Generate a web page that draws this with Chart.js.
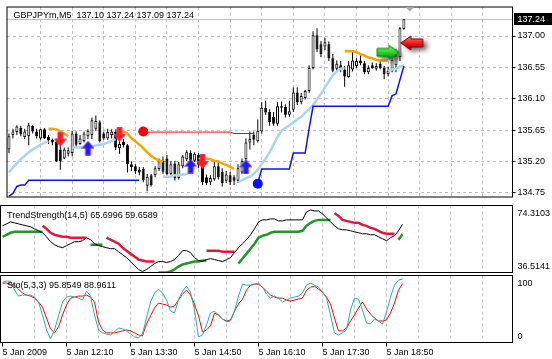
<!DOCTYPE html>
<html>
<head>
<meta charset="utf-8">
<script src="https://cdn.jsdelivr.net/npm/chart.js@4.4.1/dist/chart.umd.min.js"></script>
<style>
html,body{margin:0;padding:0;background:#fff;}
body{width:552px;height:359px;position:relative;overflow:hidden;}
canvas{position:absolute;left:0;display:block;}
</style>
</head>
<body>
<canvas id="main" width="552" height="204" style="top:0px"></canvas>
<canvas id="ts" width="552" height="68" style="top:205px"></canvas>
<canvas id="sto" width="552" height="84" style="top:275px"></canvas>
<script>
// ---------- DATA ----------
const symbol = 'GBPJPYm', timeframe = 'M5';
const opens = [135.37,135.58,135.62,135.68,135.55,135.56,135.71,135.63,135.53,135.66,
 135.55,135.51,135.48,135.37,135.24,135.31,135.32,135.60,135.45,135.49,
 135.56,135.58,135.67,135.76,135.60,135.53,135.58,135.62,135.39,135.48,
 135.43,135.16,135.13,135.08,135.09,134.85,135.00,135.00,135.09,135.21,
 135.24,135.02,135.17,134.96,135.13,135.23,135.32,135.21,135.29,135.13,
 134.97,134.90,134.94,135.13,135.05,134.92,135.00,134.97,134.92,135.04,
 135.23,135.47,135.58,135.49,135.63,135.97,135.91,135.84,135.74,135.99,
 135.98,135.87,135.94,136.19,136.05,136.11,136.21,136.54,137.01,136.88,
 136.85,136.88,136.68,136.53,136.58,136.52,136.41,136.52,136.57,136.65,
 136.61,136.48,136.58,136.53,136.60,136.54,136.45,136.50,136.58,136.70,
 137.10];
const highs = [135.60,135.67,135.72,135.71,135.67,135.75,135.72,135.67,135.67,135.68,
 135.58,135.53,135.53,135.45,135.40,135.40,135.64,135.63,135.58,135.63,
 135.66,135.83,135.86,135.79,135.63,135.67,135.66,135.66,135.50,135.52,
 135.45,135.20,135.16,135.12,135.12,135.02,135.02,135.13,135.24,135.27,
 135.29,135.20,135.21,135.19,135.29,135.36,135.36,135.33,135.32,135.16,
 135.01,135.00,135.20,135.19,135.10,135.06,135.05,135.00,135.16,135.24,
 135.53,135.63,135.63,135.80,136.05,136.07,135.95,135.91,136.05,136.06,
 136.02,136.07,136.26,136.26,136.18,136.23,136.58,137.07,137.11,136.93,
 136.97,136.92,136.74,136.65,136.64,136.57,136.64,136.78,136.68,136.72,
 136.64,136.58,136.62,136.61,136.65,136.57,136.56,136.74,136.81,137.13,
 137.24];
const lows = [135.32,135.53,135.58,135.56,135.52,135.43,135.60,135.53,135.51,135.52,
 135.45,135.43,135.19,135.08,135.23,135.27,135.27,135.41,135.44,135.47,
 135.52,135.52,135.64,135.47,135.51,135.51,135.53,135.36,135.31,135.40,
 135.04,135.06,135.02,135.00,134.90,134.77,134.84,134.97,135.06,135.02,
 135.00,135.00,134.92,134.94,135.10,135.20,135.16,135.19,135.10,134.86,
 134.86,134.86,134.92,134.94,134.84,134.89,134.86,134.86,134.89,135.02,
 135.19,135.37,135.43,135.47,135.60,135.87,135.71,135.71,135.71,135.90,
 135.83,135.84,135.91,136.01,136.02,136.09,136.18,136.52,136.77,136.70,
 136.80,136.64,136.48,136.50,136.48,136.27,136.40,136.49,136.54,136.58,
 136.45,136.45,136.53,136.50,136.52,136.38,136.42,136.48,136.48,136.64,
 137.09];
const closes = [135.56,135.63,135.70,135.59,135.63,135.72,135.63,135.56,135.66,135.53,
 135.50,135.47,135.20,135.20,135.37,135.36,135.60,135.44,135.53,135.60,
 135.64,135.79,135.78,135.49,135.53,135.62,135.63,135.40,135.45,135.43,
 135.16,135.12,135.06,135.04,134.93,134.98,134.86,135.10,135.20,135.05,
 135.02,135.16,134.96,135.16,135.27,135.33,135.21,135.31,135.15,134.90,
 134.89,134.96,135.13,134.97,134.89,135.01,134.90,134.92,135.10,135.20,
 135.47,135.52,135.51,135.64,135.97,135.90,135.76,135.74,135.99,135.97,
 135.87,135.92,136.19,136.05,136.14,136.21,136.54,137.01,136.81,136.74,
 136.91,136.68,136.50,136.60,136.52,136.42,136.58,136.65,136.64,136.61,
 136.48,136.54,136.54,136.57,136.54,136.45,136.50,136.66,136.72,137.11,
 137.24];

// trailing line segments: [startBar, values]
const lightBlueSegs = [
 [0,[135.04,135.11,135.17,135.23,135.28,135.33,135.37,135.40,135.44,135.47,135.49]],
 [16,[135.40,135.40,135.40,135.40,135.41,135.41,135.43,135.44,135.45,135.47,135.49,135.52]],
 [39,[134.98,134.98,134.98,135.00,135.00,135.01,135.02,135.05,135.11]],
 [58,[134.90,134.93,134.96,134.98,135.02,135.08,135.16,135.24,135.33,135.44,135.55,135.64,135.68,135.72,
      135.76,135.80,135.84,135.90,135.95,136.01,136.09,136.17,136.26,136.35,136.44,136.49,136.53,136.54]],
 [96,[136.50,136.52,136.53,136.56,136.58]]
];
const orangeSegs = [
 [10,[135.67,135.67,135.66,135.63,135.60,135.56]],
 [27,[135.64,135.64,135.63,135.60,135.53,135.49,135.44,135.39,135.33,135.28,135.24,135.21,135.20]],
 [48,[135.24,135.24,135.24,135.23,135.21,135.20,135.17,135.15,135.12,135.09]],
 [85,[136.78,136.78,136.78,136.77,136.74,136.72,136.69,136.68,136.66,136.65,136.65,136.65]]
];
const blueStopSegs = [
 [0,[134.70,134.74,134.84,134.86,134.86,134.93,134.93,134.93,134.93,134.93,134.93,134.93,134.93,134.93,134.93,
     134.93,134.93,134.93,134.93,134.93,134.93,134.93,134.93,134.93,134.93,134.93,134.93,134.93,134.93,134.93,
     134.93,134.93,134.93,134.93]],
 [63,[134.89,135.09,135.09,135.09,135.09,135.09,135.09,135.09,135.09,135.32,135.32,135.32,135.32,135.67,
      135.99,135.99,135.99,135.99,135.99,135.99,135.99,135.99,135.99,135.99,135.99,135.99,135.99,135.99,
      135.99,135.99,135.99,135.99,135.99,135.99,136.14,136.17,136.37,136.57]]
];
const redStopSegs = [
 [34,[135.62,135.62,135.62,135.62,135.62,135.62,135.62,135.62,135.62,135.62,135.62,135.62,135.62,135.62,
      135.62,135.62,135.62,135.62,135.62,135.62,135.62,135.62,135.62,135.60,135.60,135.60,135.60,135.60,135.60]]
];
const redDots = [[34,135.63]];
const blueDots = [[63,134.88]];
const sellArrows = [[13,135.52],[28,135.59],[49,135.20]];
const buyArrows = [[20,135.39],[46,135.13],[60,135.12]];
const greenSignal = [[96,136.765]];
const redSignal = [[102,136.90]];
const priceTicks = [134.75,135.20,135.65,136.10,136.55,137.00];

// TrendStrength(14,5)
const tsMain = [64.71,65.91,67.11,66.51,65.91,65.31,64.71,64.11,62.91,61.71,
 60.51,58.11,55.11,53.31,52.11,51.51,52.71,53.91,55.11,55.11,
 55.71,57.51,56.31,53.91,52.71,52.11,51.51,50.91,50.91,49.11,
 47.31,45.51,43.11,40.71,38.31,37.11,38.31,40.11,41.91,43.11,
 43.11,42.51,43.11,44.31,46.71,49.71,49.71,48.51,45.51,43.71,
 43.11,44.31,44.91,44.31,43.71,43.11,44.31,45.51,48.51,51.51,
 53.91,56.31,59.31,62.91,67.11,68.31,68.31,68.91,68.91,67.71,
 67.71,68.31,68.31,68.31,68.31,68.31,73.11,74.31,73.71,73.71,
 71.91,69.51,67.11,64.71,62.91,62.31,62.31,61.71,61.11,60.51,
 59.91,59.91,59.31,59.31,58.11,56.91,55.71,57.51,58.71,61.71,
 65.70];
const tsDownSegs = [
 [10,[64.71,62.91,60.51,59.31,58.71,58.11,58.11,57.51,57.51,57.51,57.51,57.51]],
 [26,[57.51,56.31,55.11,53.91,51.51,49.71,47.91,46.11,44.31,43.71,43.11,43.11,43.11]],
 [51,[49.71,49.71,49.71,49.71,49.11,49.11,49.11,49.11]],
 [83,[72.51,70.71,68.31,67.71,67.11,66.51,66.51,65.31,64.71,63.51,62.91,61.71,60.51,59.91,59.91,59.91]]
];
const tsUpSegs = [
 [0,[58.11,59.31,60.51,61.11,61.11,61.11,61.11,61.11,61.11,61.11,61.11]],
 [22,[53.31,53.31,53.31,53.31]],
 [39,[36.51,36.51,36.51,37.11,38.31,40.11,41.31,41.91,42.51,43.11,43.11,43.71,43.71]],
 [59,[41.91,44.91,47.91,50.91,53.91,57.51,58.71,59.31,60.51,61.11,61.11,61.11,61.11,61.11,61.11,61.11,
      61.71,64.71,66.51,67.71,68.31,68.31,68.31,68.31]],
 [99,[56.31,59.66]]
];
const tsScaleLabels = [74.3103, 36.5141];

// Stochastic(5,3,3)
const stoK = [91.2,92.6,92.6,79.4,70.6,72.1,72.1,72.1,69.1,61.8,
 42.6,20.6,7.4,20.6,41.2,61.8,69.1,70.6,69.1,67.6,
 64.7,77.9,70.6,42.6,20.6,16.2,14.7,13.2,17.6,23.5,
 22.1,19.1,14.7,10.3,8.8,14.7,38.2,61.8,75.0,80.9,
 75.0,64.7,48.5,45.6,64.7,77.9,85.3,76.5,50.0,10.3,
 13.2,27.9,45.6,48.5,42.6,36.8,32.4,33.8,48.5,70.6,
 88.2,86.8,86.8,88.2,89.7,83.8,73.5,67.6,70.6,67.6,
 61.8,64.7,67.6,69.1,70.6,75.0,86.8,89.7,86.8,83.8,
 76.5,67.6,42.6,16.2,13.2,16.2,20.6,50.0,67.6,66.2,
 50.0,30.9,29.4,36.8,33.8,29.4,47.1,69.1,86.8,94.1,
 95.85];
const stoD = [89.7,89.7,88.2,86.8,80.9,75.0,72.1,70.6,67.6,61.8,
 54.4,38.2,22.1,16.2,25.0,42.6,57.4,67.6,69.1,70.6,
 70.6,72.1,69.1,61.8,32.4,20.6,16.2,16.2,16.2,17.6,
 19.1,20.6,19.1,16.2,13.2,11.8,29.4,41.2,52.9,60.3,
 58.8,57.4,54.4,55.9,64.7,73.5,79.4,72.1,58.8,41.2,
 17.6,20.6,26.5,45.6,42.6,36.8,33.8,35.3,48.5,58.8,
 66.2,79.4,86.8,88.2,88.2,83.8,77.9,72.1,69.1,67.6,
 67.6,64.7,63.2,64.7,66.2,67.6,79.4,83.8,85.3,80.9,
 76.5,69.1,58.8,38.2,19.1,19.1,23.5,33.8,42.6,52.9,
 61.8,51.5,44.1,38.2,33.8,33.8,35.3,45.6,60.3,79.4,
 88.96];
const stoScaleLabels = [100, 0];

const xTickLabels = ['5 Jan 2009','5 Jan 12:10','5 Jan 13:30','5 Jan 14:50','5 Jan 16:10','5 Jan 17:30','5 Jan 18:50'];
const tsTitle = 'TrendStrength(14,5) 65.6996 59.6589';
const stoTitle = 'Sto(5,3,3) 95.8549 88.9611';

// ---------- BUILD ----------
const SLOTS = 128;            // bars + empty chart-shift area
const LABEL_EVERY = 16, GRID_EVERY = 8;
const GRID = '#c0c0c0';
const FF = '"Liberation Sans", Arial, sans-serif';
const FONT = '9px ' + FF;
Chart.defaults.font.family = FF;
Chart.defaults.font.size = 9;
Chart.defaults.color = '#000';

const last = opens.length - 1;
const mainTitle = symbol + ',' + timeframe + '  ' + opens[last].toFixed(2) + ' ' + highs[last].toFixed(2) + ' ' + lows[last].toFixed(2) + ' ' + closes[last].toFixed(2);

const categories = [];
for (let i = 0; i < SLOTS; i++) {
  if (i < opens.length) { const m = 650 + 5 * i; categories.push(String(Math.floor(m / 60)).padStart(2, '0') + ':' + String(m % 60).padStart(2, '0')); }
  else categories.push('s' + i);
}
function place(segs) { const a = new Array(SLOTS).fill(null); segs.forEach(([s, vals]) => vals.forEach((v, k) => { a[s + k] = v; })); return a; }
function points(list) { const a = new Array(SLOTS).fill(null); list.forEach(([i, v]) => { a[i] = v; }); return a; }
function full(arr) { const a = new Array(SLOTS).fill(null); arr.forEach((v, i) => { a[i] = v; }); return a; }

function arrowImg(color, edge, up) {
  const c = document.createElement('canvas'); c.width = 13; c.height = 15;
  const g = c.getContext('2d');
  let P = [[6.5,14.5],[12.5,7.5],[9,7.5],[9,0.5],[4,0.5],[4,7.5],[0.5,7.5]];
  if (up) P = P.map(([x, y]) => [x, 15 - y]);
  g.beginPath(); P.forEach(([x, y], i) => i ? g.lineTo(x, y) : g.moveTo(x, y)); g.closePath();
  g.fillStyle = color; g.fill(); g.strokeStyle = edge; g.lineWidth = 1; g.stroke();
  return c;
}
function bigArrow(light, fill, edge, right) {
  const W = 22, H = 14, m = 8;
  const c = document.createElement('canvas'); c.width = W + 2 * m; c.height = H + 2 * m;
  const g = c.getContext('2d');
  let P = [[0,3],[12,3],[12,0],[22,7],[12,14],[12,11],[0,11]];
  if (!right) P = P.map(([x, y]) => [W - x, y]);
  const path = () => { g.beginPath(); P.forEach(([x, y], i) => i ? g.lineTo(x + m, y + m) : g.moveTo(x + m, y + m)); g.closePath(); };
  g.save(); g.shadowColor = 'rgba(70,70,70,0.85)'; g.shadowBlur = 5; g.shadowOffsetX = 4; g.shadowOffsetY = 3;
  path(); g.fillStyle = '#888'; g.fill(); g.restore();
  path(); const gr = g.createLinearGradient(0, m, 0, m + H); gr.addColorStop(0, light); gr.addColorStop(0.55, fill); gr.addColorStop(1, edge);
  g.fillStyle = gr; g.fill(); g.strokeStyle = edge; g.lineWidth = 1; g.stroke();
  return c;
}

function makeDecor(cfg) {
  return {
    id: 'decor',
    beforeDatasetsDraw(chart) {
      if (cfg.priceLine == null) return;
      const a = chart.chartArea, ctx = chart.ctx;
      const y = Math.floor(chart.scales.y.getPixelForValue(cfg.priceLine)) + 0.5;
      ctx.save(); ctx.strokeStyle = '#c0c0c0'; ctx.lineWidth = 1; ctx.setLineDash([]);
      ctx.beginPath(); ctx.moveTo(a.left, y); ctx.lineTo(a.right, y); ctx.stroke(); ctx.restore();
    },
    afterDatasetsDraw(chart) {
      const a = chart.chartArea, ctx = chart.ctx;
      ctx.save();
      ctx.setLineDash([]); ctx.strokeStyle = '#000'; ctx.lineWidth = 1;
      ctx.strokeRect(a.left, a.top, a.right - a.left, a.bottom - a.top);
      ctx.font = FONT; ctx.textAlign = 'left'; ctx.textBaseline = 'middle'; ctx.fillStyle = '#000';
      if (cfg.title) ctx.fillText(cfg.title, a.left + 6.5, a.top + cfg.titleY);
      if (cfg.scaleLabels) {
        const s = chart.scales.y;
        cfg.scaleLabels.forEach(v => {
          let y = s.getPixelForValue(v);
          y = Math.max(a.top + 8, Math.min(a.bottom - 6, y));
          ctx.fillText(cfg.fmt(v), a.right + 5, y);
        });
      }
      if (cfg.priceLine != null) {
        const yy = Math.floor(chart.scales.y.getPixelForValue(cfg.priceLine));
        ctx.fillStyle = '#000'; ctx.fillRect(Math.ceil(a.right) + 1, yy - 6, chart.width, 12);
        ctx.fillStyle = '#fff'; ctx.fillText(cfg.priceLine.toFixed(2), a.right + 5, yy + 0.5);
      }
      if (cfg.shiftAt != null) {
        const x = chart.scales.x.getPixelForValue(cfg.shiftAt);
        ctx.fillStyle = '#a8a8a8'; ctx.beginPath();
        ctx.moveTo(x - 4.5, a.top); ctx.lineTo(x + 4.5, a.top); ctx.lineTo(x, a.top + 4.5); ctx.closePath(); ctx.fill();
      }
      ctx.restore();
    }
  };
}

function xAxis(withLabels, height) {
  return {
    type: 'category', offset: true,
    grid: {
      display: true, offset: false, lineWidth: 1,
      color: c => (c.tick && c.tick.value > 0) ? GRID : 'rgba(0,0,0,0)',
      drawTicks: withLabels, tickLength: 4, tickBorderDash: [],
      tickColor: c => (c.tick && c.tick.value % LABEL_EVERY === 0 && c.tick.value / LABEL_EVERY < xTickLabels.length) ? '#000' : 'rgba(0,0,0,0)'
    },
    border: { display: false, dash: [3, 3] },
    ticks: {
      display: withLabels, autoSkip: false, maxRotation: 0, minRotation: 0, align: 'start', padding: 1,
      font: { size: 9, family: FF }, color: '#000',
      callback: v => (v % LABEL_EVERY === 0 && v / LABEL_EVERY < xTickLabels.length) ? xTickLabels[v / LABEL_EVERY] : ''
    },
    afterBuildTicks: s => { s.ticks = s.ticks.filter(t => t.value % GRID_EVERY === 0); },
    afterFit: s => { s.height = height; s.paddingLeft = 0; s.paddingRight = 0; }
  };
}
function lineDs(data, color, width, order) {
  return { type: 'line', data, borderColor: color, borderWidth: width, pointRadius: 0, spanGaps: false, tension: 0, fill: false, order };
}
function markDs(data, style, radius, color, order) {
  return { type: 'line', data, showLine: false, pointStyle: style, pointRadius: radius, pointHoverRadius: radius,
           pointBackgroundColor: color, pointBorderWidth: 0, borderColor: color, order };
}

// ---- main chart ----
const PX_PER_UNIT = 74.4;
new Chart(document.getElementById('main'), {
  type: 'bar',
  data: {
    labels: categories,
    datasets: [
      { type: 'bar', data: full(lows.map((l, i) => [l, highs[i]])), backgroundColor: '#000', borderWidth: 0,
        barThickness: 1, grouped: false, inflateAmount: 0, order: 20 },
      { type: 'bar', data: full(opens.map((o, i) => [o, closes[i]])),
        backgroundColor: opens.map((o, i) => closes[i] >= o ? '#ffffff' : '#000000'),
        borderColor: '#000', borderWidth: 1, borderSkipped: false, barThickness: 3, grouped: false, inflateAmount: 0, order: 19 },
      lineDs(place(lightBlueSegs), '#a9d6ea', 2.5, 10),
      lineDs(place(orangeSegs), '#ffa200', 2.5, 10),
      lineDs(place(blueStopSegs), '#0a14f0', 1.5, 9),
      lineDs(place(redStopSegs), '#ff0000', 1, 9),
      markDs(points(redDots), 'circle', 5, '#ff0000', 5),
      markDs(points(blueDots), 'circle', 5, '#0a14f0', 5),
      markDs(points(sellArrows), arrowImg('#ff1a1a', '#e04070', false), 7, '#ff1010', 4),
      markDs(points(buyArrows), arrowImg('#1a1aff', '#8a40e0', true), 7, '#1010ff', 4),
      markDs(points(greenSignal), bigArrow('#7dff7d', '#1fd21f', '#0b7a0b', true), 6, '#1fd21f', 3),
      markDs(points(redSignal), bigArrow('#ff8080', '#f01515', '#8a0000', false), 6, '#f01515', 3)
    ]
  },
  options: {
    responsive: false, devicePixelRatio: 1, animation: false, events: [],
    layout: { padding: { left: 0.5, top: 0.5, right: 0, bottom: 0 } },
    plugins: { legend: { display: false }, tooltip: { enabled: false } },
    scales: {
      x: xAxis(false, 0.5),
      y: {
        position: 'right', min: 137 - 172 / PX_PER_UNIT, max: 137 + 31 / PX_PER_UNIT,
        afterBuildTicks: s => { s.ticks = priceTicks.map(v => ({ value: v })); },
        ticks: { autoSkip: false, padding: 2, font: { size: 9, family: FF }, color: '#000', callback: v => Number(v).toFixed(2) },
        grid: { color: GRID, drawTicks: true, tickLength: 3, tickColor: '#000', tickBorderDash: [] },
        border: { display: false, dash: [3, 3] },
        afterFit: s => { s.width = 39.5; s.paddingTop = 0; s.paddingBottom = 0; }
      }
    }
  },
  plugins: [makeDecor({ title: mainTitle, titleY: 8.5, priceLine: closes[last], shiftAt: 101.5 })]
});

// ---- TrendStrength panel ----
new Chart(document.getElementById('ts'), {
  type: 'line',
  data: {
    labels: categories,
    datasets: [
      lineDs(place(tsUpSegs), '#23962a', 2.5, 3),
      lineDs(place(tsDownSegs), '#e8143c', 2.5, 2),
      lineDs(full(tsMain), '#000000', 1, 1)
    ]
  },
  options: {
    responsive: false, devicePixelRatio: 1, animation: false, events: [],
    layout: { padding: { left: 0.5, top: 0.5, right: 39.5, bottom: 0 } },
    plugins: { legend: { display: false }, tooltip: { enabled: false } },
    scales: {
      x: xAxis(false, 0.5),
      y: { display: false, min: 36.5, max: 77.0 }
    }
  },
  plugins: [makeDecor({ title: tsTitle, titleY: 10.5, scaleLabels: tsScaleLabels, fmt: v => v.toFixed(4) })]
});

// ---- Stochastic panel ----
new Chart(document.getElementById('sto'), {
  type: 'line',
  data: {
    labels: categories,
    datasets: [
      lineDs(full(stoD), '#ff0000', 1, 2),
      lineDs(full(stoK), '#20b2aa', 1, 1)
    ]
  },
  options: {
    responsive: false, devicePixelRatio: 1, animation: false, events: [],
    layout: { padding: { left: 0.5, top: 0.5, right: 39.5, bottom: 0 } },
    plugins: { legend: { display: false }, tooltip: { enabled: false } },
    scales: {
      x: xAxis(true, 16.5),
      y: { display: false, min: 2, max: 101 }
    }
  },
  plugins: [makeDecor({ title: stoTitle, titleY: 10.5, scaleLabels: stoScaleLabels, fmt: v => String(v) })]
});
</script>
</body>
</html>
